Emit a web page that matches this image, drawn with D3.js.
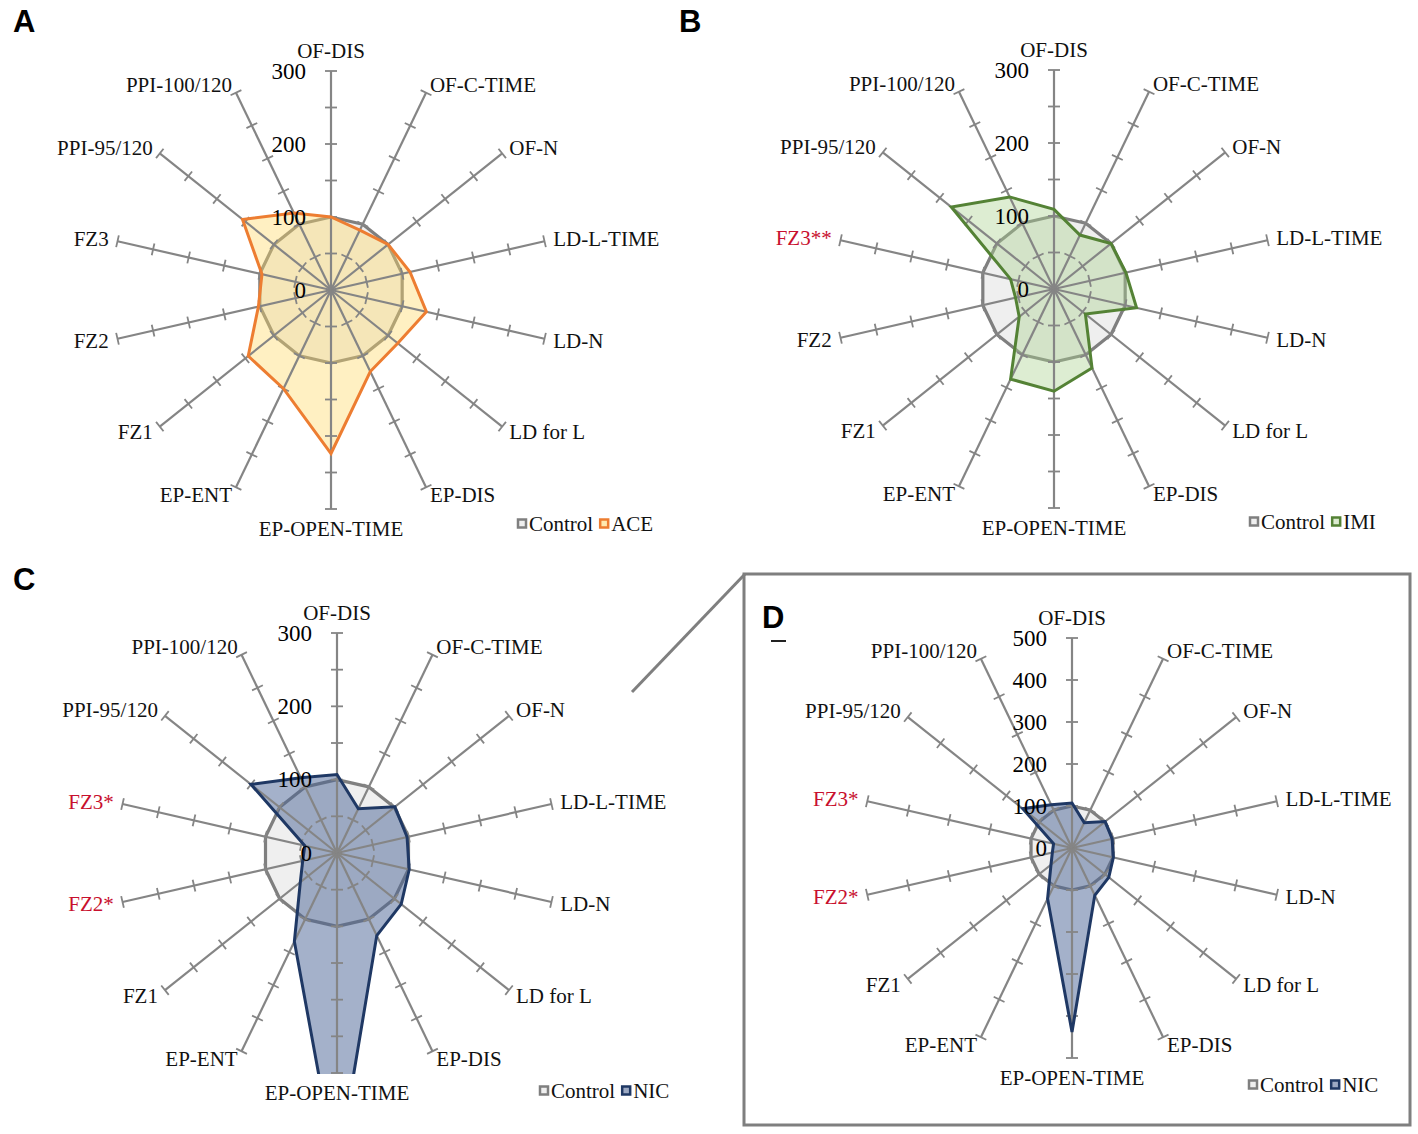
<!DOCTYPE html>
<head>
<meta charset="utf-8">
<title>Radar panels</title>
<script src="https://d3js.org/d3.v7.min.js"></script>
<style>
body { margin: 0; background: #fff; }
text { font-family: "Liberation Serif", "Times New Roman", serif; }
</style>
</head>
<body>
<div id="container"></div>
<script>
// ----- data -----
const categories = ["OF-DIS", "OF-C-TIME", "OF-N", "LD-L-TIME", "LD-N", "LD for L", "EP-DIS",
  "EP-OPEN-TIME", "EP-ENT", "FZ1", "FZ2", "FZ3", "PPI-95/120", "PPI-100/120"];
const control = [100, 100, 100, 100, 100, 100, 100, 100, 100, 100, 100, 100, 100, 100];
const ace = [100, 91, 100, 111, 134, 117, 124, 224, 150, 145, 102, 97, 155, 117];
const imi = [109, 82, 100, 101, 116, 55, 120, 140, 137, 61, 54, 61, 180, 140];
const nic = [107, 67, 101, 98, 101, 112, 125, 438, 134, 64, 48, 45, 150, 114];
const scaleTicks300 = [0, 100, 200, 300];
const scaleTicks500 = [0, 100, 200, 300, 400, 500];
const sigIMI = {"FZ3": "**"};
const sigNIC = {"FZ3": "*", "FZ2": "*"};

const W = 1418, H = 1134;
const svg = d3.select("#container").append("svg")
  .attr("width", W).attr("height", H)
  .style("background", "#fff");

const n = categories.length;
const angle = i => i * 2 * Math.PI / n;

function drawPanel(p) {
  const g = svg.append("g");
  const r = d3.scaleLinear().domain([0, p.max]).range([0, p.R]);
  const pt = (i, v) => [p.cx + r(v) * Math.sin(angle(i)), p.cy - r(v) * Math.cos(angle(i))];
  const line = d3.line();

  // clip for series (plot area)
  const clipId = "clip-" + p.id;
  svg.append("clipPath").attr("id", clipId)
    .append("rect")
    .attr("x", p.cx - p.R - 20).attr("y", p.cy - p.R - 20)
    .attr("width", 2 * p.R + 40).attr("height", 2 * p.R + 21);

  const fills = g.append("g").attr("clip-path", "url(#" + clipId + ")");

  // control polygon
  fills.append("path")
    .attr("d", line(control.map((v, i) => pt(i, v))) + "Z")
    .attr("fill", "#efefef")
    .attr("stroke", "#7f7f7f")
    .attr("stroke-width", 3.2)
    .attr("stroke-linejoin", "round");

  // treatment fill
  fills.append("path")
    .attr("d", line(p.values.map((v, i) => pt(i, v))) + "Z")
    .attr("fill", p.fill)
    .attr("fill-opacity", p.fillOpacity)
    .attr("stroke", "none");

  // spokes and ticks (drawn over the fills)
  const axes = g.append("g");
  categories.forEach((c, i) => {
    const a = angle(i);
    const [x2, y2] = pt(i, p.max);
    axes.append("line")
      .attr("x1", p.cx).attr("y1", p.cy).attr("x2", x2).attr("y2", y2)
      .attr("stroke", "#858585").attr("stroke-width", 2.2);
    for (let v = p.tickStep; v <= p.max + 0.001; v += p.tickStep) {
      const [tx, ty] = pt(i, v);
      const ux = Math.cos(a) * 6, uy = Math.sin(a) * 6;
      axes.append("line")
        .attr("x1", tx - ux).attr("y1", ty - uy).attr("x2", tx + ux).attr("y2", ty + uy)
        .attr("stroke", "#858585").attr("stroke-width", 1.8);
    }
  });

  // treatment outline
  g.append("g").attr("clip-path", "url(#" + clipId + ")")
    .append("path")
    .attr("d", line(p.values.map((v, i) => pt(i, v))) + "Z")
    .attr("fill", "none")
    .attr("stroke", p.stroke)
    .attr("stroke-width", 3)
    .attr("stroke-linejoin", "miter");

  // scale labels
  p.scaleTicks.forEach(v => {
    g.append("text")
      .attr("x", p.cx - 25).attr("y", p.cy - r(v))
      .attr("text-anchor", "end")
      .attr("dominant-baseline", "central")
      .style("font-size", "23px")
      .attr("fill", "#000")
      .text(v);
  });

  // category labels
  categories.forEach((c, i) => {
    const a = angle(i);
    const [ex, ey] = pt(i, p.max);
    const s = Math.sin(a), co = Math.cos(a);
    let x, y, anchor;
    if (Math.abs(s) < 0.1) {
      x = ex; y = ey - (co > 0 ? 20 : -20); anchor = "middle";
    } else {
      x = ex + 9 * s; y = ey - 9 * co; anchor = s > 0 ? "start" : "end";
    }
    const mark = p.sig[c];
    g.append("text")
      .attr("x", x).attr("y", y)
      .attr("text-anchor", anchor)
      .attr("dominant-baseline", "central")
      .style("font-size", "21px")
      .attr("fill", mark ? "#c8102e" : "#111")
      .text(c + (mark || ""));
  });

  // legend
  const lg = g.append("g").attr("transform", "translate(" + p.legX + "," + p.legY + ")");
  let lx = 0;
  [["Control", "#7f7f7f", "#efefef"], [p.name, p.stroke, p.legendFill]].forEach(d => {
    lg.append("rect")
      .attr("x", lx + 1).attr("y", -4.5).attr("width", 8).attr("height", 8)
      .attr("fill", d[2]).attr("stroke", d[1]).attr("stroke-width", 2.5);
    const t = lg.append("text")
      .attr("x", lx + 12).attr("y", 0)
      .attr("dominant-baseline", "central")
      .style("font-size", "21px")
      .attr("fill", "#111")
      .text(d[0]);
    lx += 12 + t.node().getComputedTextLength() + 6;
  });

  // panel letter
  svg.append("text")
    .attr("x", p.letterX).attr("y", p.letterY)
    .style("font-family", "'Liberation Sans', Arial, sans-serif")
    .style("font-weight", "bold")
    .style("font-size", "31px")
    .attr("fill", "#000")
    .text(p.letter);
}

// box and connector for D
svg.append("rect")
  .attr("x", 744).attr("y", 574).attr("width", 666).attr("height", 551)
  .attr("fill", "none").attr("stroke", "#7f7f7f").attr("stroke-width", 3);
svg.append("line")
  .attr("x1", 632).attr("y1", 692).attr("x2", 745).attr("y2", 574)
  .attr("stroke", "#7f7f7f").attr("stroke-width", 3);

drawPanel({id: "a", name: "ACE", letter: "A", letterX: 13, letterY: 32, cx: 331, cy: 290, R: 219, max: 300,
  tickStep: 50, scaleTicks: scaleTicks300, values: ace, stroke: "#ed7d31", fill: "#ffd966",
  fillOpacity: 0.4, legendFill: "#ffe9b0", sig: {}, legX: 517, legY: 524});
drawPanel({id: "b", name: "IMI", letter: "B", letterX: 679, letterY: 32, cx: 1054, cy: 289, R: 219, max: 300,
  tickStep: 50, scaleTicks: scaleTicks300, values: imi, stroke: "#548235", fill: "#a9d18e",
  fillOpacity: 0.4, legendFill: "#dcebd0", sig: sigIMI, legX: 1249, legY: 522});
drawPanel({id: "c", name: "NIC", letter: "C", letterX: 13, letterY: 590, cx: 337, cy: 853, R: 220, max: 300,
  tickStep: 50, scaleTicks: scaleTicks300, values: nic, stroke: "#1f3864", fill: "#4a6496",
  fillOpacity: 0.5, legendFill: "#9ca9c3", sig: sigNIC, legX: 539, legY: 1091});
drawPanel({id: "d", name: "NIC", letter: "D", letterX: 762, letterY: 628, cx: 1072, cy: 848, R: 210, max: 500,
  tickStep: 100, scaleTicks: scaleTicks500, values: nic, stroke: "#1f3864", fill: "#4a6496",
  fillOpacity: 0.5, legendFill: "#9ca9c3", sig: sigNIC, legX: 1248, legY: 1085});

// small mark under the D letter
svg.append("line")
  .attr("x1", 771).attr("y1", 641).attr("x2", 786).attr("y2", 641)
  .attr("stroke", "#222").attr("stroke-width", 2);
</script>
</body>
